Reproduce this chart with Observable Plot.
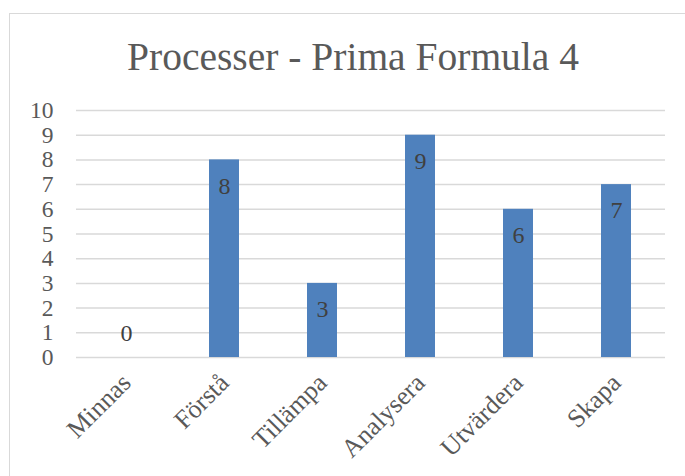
<!DOCTYPE html>
<html>
<head>
<meta charset="utf-8">
<script src="https://cdn.jsdelivr.net/npm/d3@7"></script>
<script src="https://cdn.jsdelivr.net/npm/@observablehq/plot@0.6"></script>
<style>
  html, body { margin: 0; padding: 0; background: #ffffff; overflow: hidden; }
  #wrap { position: relative; width: 685px; height: 476px; overflow: hidden; }
  #border { position: absolute; left: 9px; top: 13px; width: 700px; height: 500px; border: 1.5px solid #d9d9d9; box-sizing: border-box; }
  #chart { position: absolute; left: 0; top: 0; }
</style>
</head>
<body>
<div id="wrap"><div id="border"></div><div id="chart"></div></div>
<script>
const title = "Processer - Prima Formula 4";
const categories = ["Minnas", "Förstå", "Tillämpa", "Analysera", "Utvärdera", "Skapa"];
const values = [0, 8, 3, 9, 6, 7];
const yTicks = [0, 1, 2, 3, 4, 5, 6, 7, 8, 9, 10];

const data = categories.map((c, i) => ({category: c, value: values[i]}));

const chart = Plot.plot({
  width: 685,
  height: 476,
  marginLeft: 76,
  marginRight: 20,
  marginTop: 110,
  marginBottom: 119,
  style: {fontFamily: "Liberation Serif", fontSize: "23px", color: "#595959", background: "transparent"},
  x: {domain: categories, paddingInner: 0.694, paddingOuter: 0.347, label: null},
  y: {domain: [0, 10], label: null},
  marks: [
    Plot.ruleY(yTicks, {stroke: "#d9d9d9", strokeWidth: 1.5}),
    Plot.barY(data, {x: "category", y: "value", fill: "#4f81bd"}),
    Plot.text(data.filter(d => d.value > 0), {x: "category", y: "value", text: d => String(d.value), dy: 26, fill: "#404040", fontSize: 24}),
    Plot.text(data.filter(d => d.value === 0), {x: "category", y: "value", text: d => String(d.value), dy: -24, fill: "#404040", fontSize: 24}),
    Plot.axisY({ticks: yTicks, tickSize: 0, tickPadding: 23, fontSize: 23.5, label: null}),
    Plot.axisX({tickSize: 0, tickPadding: 21, tickRotate: -45, fontSize: 26, label: null, dx: 0}),
    Plot.text([title], {frameAnchor: "top", dy: -41, dx: -18, lineAnchor: "bottom", fontSize: 39.5, fill: "#595959"})
  ]
});
document.getElementById("chart").appendChild(chart);
</script>
</body>
</html>
